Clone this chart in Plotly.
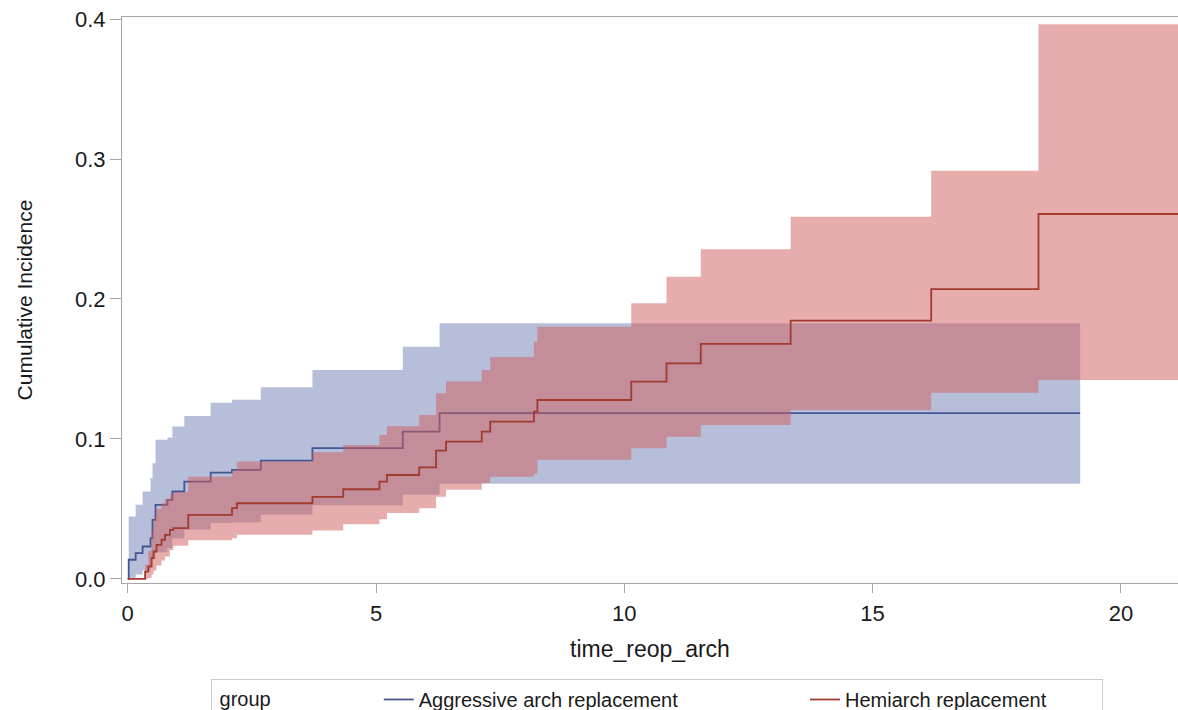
import plotly.graph_objects as go

# ---- Aggressive arch replacement (cumulative incidence with 95% CI) ----
agg_time = [0.00, 0.02, 0.16, 0.30, 0.46, 0.50, 0.56, 0.80, 0.90, 1.14, 1.67, 2.10, 2.68, 3.72, 5.54, 6.28, 19.18]
agg_est = [0.0, 0.0136, 0.0184, 0.0231, 0.0291, 0.0421, 0.0529, 0.0564, 0.0624, 0.0695, 0.0759, 0.0779, 0.0845, 0.0934, 0.1052, 0.1184, 0.1184]
agg_low = [0.0, 0.0008, 0.003, 0.006, 0.009, 0.014, 0.019, 0.022, 0.029, 0.035, 0.0398, 0.0405, 0.0457, 0.0525, 0.060, 0.0679, 0.0679]
agg_up = [0.0, 0.0445, 0.0529, 0.0624, 0.072, 0.0826, 0.0993, 0.101, 0.1088, 0.1164, 0.1259, 0.128, 0.1369, 0.1493, 0.1659, 0.1826, 0.1826]

# ---- Hemiarch replacement ----
hemi_time = [0.00, 0.35, 0.415, 0.48, 0.52, 0.58, 0.68, 0.75, 0.85, 0.92, 1.22, 2.10, 2.20, 3.72, 4.34, 5.07, 5.22,
             5.87, 6.21, 6.41, 7.13, 7.30, 8.18, 8.25, 10.14, 10.85, 11.54, 13.35, 16.18, 18.34, 21.30]
hemi_est = [0.0, 0.0052, 0.0088, 0.0148, 0.0195, 0.0243, 0.0279, 0.0314, 0.035, 0.0362, 0.0457, 0.0505, 0.054, 0.0585,
            0.064, 0.0695, 0.0742, 0.0797, 0.0916, 0.098, 0.1052, 0.1123, 0.1195, 0.1278, 0.1409, 0.154, 0.1679, 0.1845,
            0.207, 0.2607, 0.2607]
hemi_low = [0.0, 0.0, 0.0005, 0.003, 0.006, 0.0095, 0.013, 0.016, 0.0205, 0.0236, 0.0275, 0.029, 0.0315, 0.0345,
            0.039, 0.0426, 0.047, 0.0505, 0.0587, 0.0636, 0.0685, 0.073, 0.075, 0.085, 0.0933, 0.1016, 0.110, 0.1207,
            0.133, 0.1421, 0.1421]
hemi_up = [0.0, 0.010, 0.020, 0.035, 0.044, 0.050, 0.054, 0.057, 0.060, 0.062, 0.073, 0.0774, 0.0838, 0.0905, 0.0957,
           0.1028, 0.109, 0.117, 0.1326, 0.141, 0.1493, 0.1586, 0.1695, 0.1802, 0.1969, 0.2159, 0.2355, 0.2588,
           0.2916, 0.3964, 0.3964]

x_ticks = [0, 5, 10, 15, 20]
y_ticks = [0.0, 0.1, 0.2, 0.3, 0.4]
y_ticktext = ["0.0", "0.1", "0.2", "0.3", "0.4"]

group_names = ["Aggressive arch replacement", "Hemiarch replacement"]
legend_title = "group"

BLUE_LINE = "#445694"
RED_LINE = "#A23A2E"
BLUE_FILL = "rgba(111,126,179,0.5)"
RED_FILL = "rgba(208,91,91,0.5)"
AXIS = "#A5A5A5"
TXT = "#1a1a1a"
FONT = "Liberation Sans, Arial, sans-serif"
NB = "&nbsp;"

W, H = 1178, 710

fig = go.Figure()


def add_group(t, est, low, up, fill, color, name, pad):
    fig.add_trace(go.Scatter(x=t, y=low, mode="lines", line=dict(width=0, shape="hv", color=fill),
                             showlegend=False, hoverinfo="skip"))
    fig.add_trace(go.Scatter(x=t, y=up, mode="lines", line=dict(width=0, shape="hv", color=fill),
                             fill="tonexty", fillcolor=fill, showlegend=False, hoverinfo="skip"))
    fig.add_trace(go.Scatter(x=t, y=est, mode="lines", line=dict(width=1.8, shape="hv", color=color),
                             name=name + NB * pad))


add_group(agg_time, agg_est, agg_low, agg_up, BLUE_FILL, BLUE_LINE, group_names[0], 22)
add_group(hemi_time, hemi_est, hemi_low, hemi_up, RED_FILL, RED_LINE, group_names[1], 9)

fig.update_layout(
    width=W, height=H, autosize=False,
    margin=dict(l=122, r=0, t=17, b=127, autoexpand=False),
    paper_bgcolor="white", plot_bgcolor="white",
    font=dict(family=FONT, size=21, color=TXT),
    showlegend=True,
    legend=dict(
        orientation="h", xref="container", yref="container", traceorder="normal",
        x=211 / W, xanchor="left", y=1 - 679 / H, yanchor="top",
        bordercolor="#CCCCCC", borderwidth=1, bgcolor="white",
        font=dict(family=FONT, size=20, color=TXT),
        title=dict(text=NB + legend_title + NB * 18, font=dict(family=FONT, size=20, color=TXT)),
    ),
    xaxis=dict(
        range=[-0.115, 21.15], tickvals=x_ticks, ticks="outside", ticklen=9, tickcolor=AXIS,
        showline=True, linecolor=AXIS, linewidth=1, mirror=True, showgrid=False, zeroline=False,
        automargin=False, ticklabeloverflow="allow",
        tickfont=dict(family=FONT, size=22, color=TXT), ticklabelstandoff=2,
        title=dict(text="time_reop_arch", font=dict(family=FONT, size=23, color=TXT), standoff=15),
    ),
    yaxis=dict(
        range=[-0.003, 0.4015], tickvals=y_ticks, ticktext=y_ticktext, ticks="outside", ticklen=11,
        tickcolor=AXIS, showline=True, linecolor=AXIS, linewidth=1, mirror=False, showgrid=False,
        zeroline=False, automargin=False, ticklabeloverflow="allow",
        tickfont=dict(family=FONT, size=22, color=TXT), ticklabelstandoff=0,
        title=dict(text="Cumulative Incidence", font=dict(family=FONT, size=21, color=TXT), standoff=36),
    ),
)

fig.write_html(
    "out.html",
    config={"displayModeBar": False},
    post_script="document.body.style.margin='0';document.documentElement.style.overflow='hidden';"
                "document.body.style.overflow='hidden';",
)
